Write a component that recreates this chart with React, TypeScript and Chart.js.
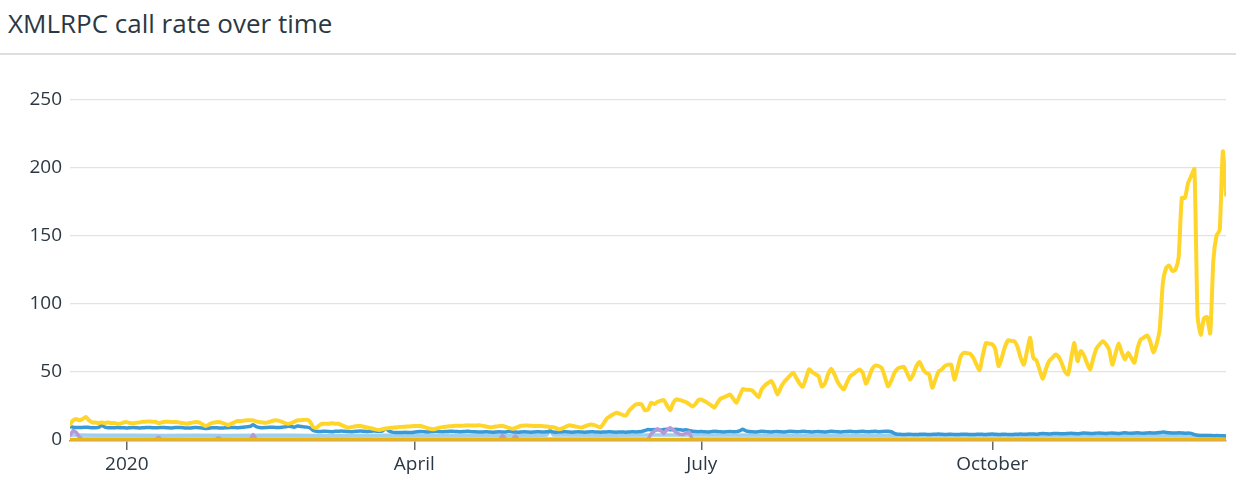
import React, { useEffect, useRef } from "react";
import { Chart, registerables } from "chart.js";

Chart.register(...registerables);

const TITLE = "XMLRPC call rate over time";

// x is the day index, day 0 = 2019-12-14
const tickDays = [18, 109, 200, 292];
const tickLabels = ["2020", "April", "July", "October"];
const yTicks = [0, 50, 100, 150, 200, 250];
const lastDay = 366;

const yellowRate = [
  11, 14, 15, 14, 15, 16.5, 14, 12.5, 12.5, 12,
  12.5, 12, 12.5, 12, 12, 11.5, 11.5, 12.5, 12.7, 12,
  11.8, 12.2, 12.5, 13, 13, 13.2, 13, 13, 12, 12.5,
  13, 13, 12.8, 12.7, 12.7, 12.3, 11.8, 11.5, 12, 12.5,
  12.7, 12.3, 11, 9.8, 11, 12.2, 12.5, 12.7, 12.3, 11.5,
  10.5, 11.5, 12.5, 13.5, 13.5, 13.8, 14, 14, 14, 13.2,
  12.7, 12.5, 12.2, 12.8, 13.5, 14, 13.8, 13, 12, 11.5,
  12, 13, 14, 14, 14.3, 14.5, 13, 9, 8.6, 10.5,
  11.5, 11.5, 11.5, 11.8, 11.5, 11.5, 10.5, 9.5, 8.6, 9,
  9.5, 9.8, 9.8, 9.3, 8.8, 8.3, 7.8, 7.2, 6.9, 7.5,
  8, 8.4, 8.6, 8.8, 9, 9.2, 9.3, 9.5, 9.6, 9.8,
  9.8, 9.8, 9.2, 8.5, 7.8, 7.4, 8, 8.6, 9, 9.3,
  9.6, 9.8, 10, 10, 10, 10.2, 10.3, 10.3, 10.3, 10.3,
  10.3, 9.8, 9.3, 9, 9.2, 9.5, 9.8, 9.8, 9.2, 8.5,
  7.8, 8.5, 9.3, 10, 10.3, 10.2, 10, 9.9, 9.8, 9.8,
  9.6, 9.4, 9.2, 9, 8.2, 7.4, 8.3, 9.3, 10.3, 10,
  9.5, 9, 8.8, 9.5, 10.5, 11, 10.5, 9.5, 9, 12,
  15.5, 17, 18.5, 19.6, 19, 18, 17.5, 21, 23.5, 25.5,
  26, 25.7, 21.5, 22, 27, 26, 27.5, 28.5, 29, 25,
  21.5, 27, 29.5, 29, 28.3, 27.5, 26, 24.2, 26, 29,
  29.2, 28, 26.7, 25, 23.3, 27, 30, 31, 32, 33,
  30, 27, 32, 37, 36.5, 36.5, 36, 33.5, 31, 37,
  39.7, 41.5, 43, 39, 33, 38, 42, 44.5, 47, 49,
  45, 41, 38.7, 45, 51.5, 49.5, 48, 46.5, 39, 41,
  48, 52, 48, 42.5, 39, 36.8, 42, 46.5, 48, 50,
  51.5, 49, 41, 46, 52, 54.4, 54, 52.5, 46, 39,
  43, 49, 52, 53, 53.4, 49, 44, 48, 54, 56.9,
  52, 49, 48, 38, 44, 50, 51.5, 54, 55, 55,
  44, 52, 61, 63.7, 63.5, 63, 60, 55, 51, 62,
  71, 70.5, 70, 66, 54, 60, 68, 73, 72.5, 72.3,
  68, 60, 55, 65, 74.8, 60, 58, 51, 44.6, 52,
  57.6, 60, 62.5, 60.8, 56, 50, 47.8, 60, 71, 57.6,
  65, 62, 56, 51.5, 60, 67, 70, 72.3, 70, 66,
  55, 63, 70.6, 64, 58.8, 63.7, 60, 56.4, 67, 73.5,
  75, 76.5, 72, 64, 70, 81, 115, 126, 128, 124,
  125, 134, 177.7, 177.7, 188.7, 194, 199, 90.7, 77, 89,
  90, 78, 132, 150, 154, 212, 180,
];

const blueRate = [
  9.3, 9.0, 8.8, 8.7, 8.8, 9.0, 8.8, 8.6, 8.5, 8.8,
  10.3, 9.0, 8.6, 8.5, 8.6, 8.7, 8.6, 8.5, 8.4, 8.6,
  8.7, 8.6, 8.4, 8.5, 8.7, 8.8, 8.6, 8.5, 8.6, 8.8,
  8.7, 8.5, 8.4, 8.6, 8.8, 8.7, 8.5, 8.3, 8.4, 8.6,
  8.8, 8.6, 8.3, 8.0, 8.2, 8.5, 8.6, 8.4, 8.3, 8.5,
  8.6, 8.8, 8.7, 8.6, 8.8, 9.0, 9.2, 9.5, 10.8, 9.3,
  8.8, 8.6, 8.7, 8.9, 9.0, 8.8, 8.7, 8.9, 9.2, 9.6,
  9.4, 9.0, 9.8, 9.5, 9.2, 9.0, 8.4, 6.5, 6.0, 5.8,
  5.9, 6.0, 5.8, 5.7, 5.9, 6.0, 6.1, 5.9, 5.8, 5.7,
  5.8, 6.0, 6.1, 5.9, 5.8, 6.0, 6.2, 6.0, 5.9, 6.3,
  7.8, 6.2, 5.3, 5.0, 5.1, 5.0, 5.2, 5.1, 5.0, 5.3,
  5.6, 5.8, 5.7, 5.5, 5.6, 5.8, 5.9, 5.7, 5.6, 5.8,
  5.9, 6.0, 5.8, 5.7, 5.6, 5.8, 5.9, 5.7, 5.6, 5.5,
  5.4, 5.5, 5.6, 5.4, 5.3, 5.5, 5.6, 5.4, 5.5, 6.0,
  5.6, 5.4, 5.3, 5.5, 5.6, 5.4, 5.3, 5.5, 5.6, 5.5,
  5.4, 5.6, 5.8, 5.5, 5.3, 5.4, 5.5, 5.6, 5.4, 5.3,
  5.5, 5.6, 5.4, 5.3, 5.5, 5.6, 5.5, 5.4, 5.3, 5.4,
  5.5, 5.6, 5.4, 5.3, 5.5, 5.4, 5.3, 5.5, 5.6, 5.5,
  5.6, 5.8, 6.5, 7.2, 7.0, 7.3, 7.1, 6.9, 7.2, 7.4,
  7.0, 7.2, 7.4, 7.1, 6.8, 7.0, 6.6, 6.0, 5.8, 5.7,
  5.8, 5.6, 5.5, 5.7, 5.9, 5.8, 5.6, 5.5, 5.7, 5.8,
  5.6, 5.7, 6.2, 7.4, 6.3, 5.8, 5.6, 5.5, 5.7, 5.9,
  5.8, 5.6, 5.5, 5.7, 5.8, 5.6, 5.5, 5.7, 5.9, 5.8,
  5.6, 5.7, 5.9, 5.8, 5.6, 5.5, 5.7, 5.8, 5.6, 5.5,
  5.7, 5.9, 5.8, 5.6, 5.5, 5.7, 5.8, 5.9, 5.7, 5.6,
  5.8, 5.9, 5.7, 5.6, 5.8, 5.9, 5.7, 5.8, 6.0, 5.9,
  5.6, 4.5, 3.8, 3.7, 3.6, 3.7, 3.8, 3.6, 3.5, 3.7,
  3.8, 3.7, 3.6, 3.7, 3.8, 3.9, 3.7, 3.6, 3.7, 3.8,
  3.6, 3.5, 3.7, 3.8, 3.7, 3.6, 3.5, 3.7, 3.8, 3.7,
  3.6, 3.8, 3.9, 3.7, 3.6, 3.7, 3.8, 3.6, 3.5, 3.7,
  3.8, 3.9, 3.7, 3.8, 4.0, 3.9, 3.8, 4.1, 4.3, 4.2,
  4.0, 4.2, 4.4, 4.3, 4.1, 4.2, 4.4, 4.5, 4.3, 4.2,
  4.4, 4.6, 4.5, 4.3, 4.4, 4.6, 4.7, 4.5, 4.4, 4.6,
  4.7, 4.5, 4.4, 4.6, 4.8, 4.6, 4.5, 4.7, 4.9, 4.6,
  4.5, 4.7, 4.8, 4.6, 4.8, 5.0, 5.4, 5.1, 4.8, 4.7,
  4.6, 4.8, 4.7, 4.5, 4.6, 4.4, 3.5, 3.0, 2.9, 2.8,
  2.9, 2.8, 2.7, 2.8, 2.7, 2.6, 2.5,
];

const lightBlueDays = [0, 10, 20, 30, 40, 50, 60, 70, 77, 85, 100, 120, 140, 150, 151, 152, 153, 170, 185, 200, 230, 261, 290, 320, 350, 366];
const lightBlueRate = [3.2, 3.0, 3.1, 2.9, 3.0, 2.9, 3.1, 3.0, 2.8, 2.9, 3.1, 3.0, 3.1, 3.0, 3.2, 7.4, 3.2, 3.0, 3.3, 3.2, 3.1, 3.0, 2.9, 3.0, 3.1, 2.6];

const purpleDays = [0, 1, 2, 3, 4, 27, 28, 29, 46, 47, 48, 57, 58, 59, 136, 137, 138, 140, 141, 142, 183, 184, 185, 186, 187, 188, 189, 190, 191, 192, 193, 194, 195, 196, 197, 366];
const purpleRate = [3, 6.5, 5, 1.5, 0, 0, 1.5, 0, 0, 1.2, 0, 0, 3.5, 0, 0, 3, 0, 0, 2.5, 0, 0, 4, 6, 7.8, 6.5, 4.4, 7, 8.6, 7, 5, 3.7, 3.5, 4.5, 5.4, 0, 0];

const goldDays = [0, 366];
const goldRate = [0, 0];

const pts = (days: number[], vals: number[]) => vals.map((v, i) => ({ x: days[i], y: v }));
const daily = (vals: number[]) => vals.map((v, i) => ({ x: i, y: v }));

const FONT = "'Open Sans', 'Noto Sans', sans-serif";
const TEXT = "#2b3843";

export default function App() {
  const ref = useRef<HTMLCanvasElement | null>(null);

  useEffect(() => {
    document.body.style.margin = "0";
    if (!ref.current) return;
    const common = { pointRadius: 0, borderWidth: 3.5, tension: 0.2, borderJoinStyle: "round" as const, borderCapStyle: "round" as const, fill: false };
    const chart = new Chart(ref.current, {
      type: "line",
      data: {
        datasets: [
          { ...common, label: "zero", data: pts(goldDays, goldRate), borderColor: "#EDB60C", borderWidth: 3 },
          { ...common, label: "purple", data: pts(purpleDays, purpleRate), borderColor: "#B49AD6", tension: 0 },
          { ...common, label: "yellow", data: daily(yellowRate), borderColor: "#FFD52A", borderWidth: 4 },
          { ...common, label: "blue", data: daily(blueRate), borderColor: "#3A9AD6" },
          { ...common, label: "lightblue", data: pts(lightBlueDays, lightBlueRate), borderColor: "#9FCFEB", tension: 0 },
        ],
      },
      options: {
        animation: false,
        responsive: true,
        maintainAspectRatio: false,
        layout: { padding: { left: 8, right: 10, top: 19, bottom: 0 } },
        plugins: { legend: { display: false }, tooltip: { enabled: false }, title: { display: false } },
        scales: {
          x: {
            type: "linear",
            min: 0,
            max: lastDay,
            afterBuildTicks: (s: any) => { s.ticks = tickDays.map((v) => ({ value: v })); },
            afterFit: (s: any) => { s.height = 49; },
            grid: { drawOnChartArea: false, drawTicks: true, tickLength: 9, color: "#666", lineWidth: 1.5 },
            border: { display: true, color: "#a3a3a3", width: 1.5 },
            ticks: {
              autoSkip: false,
              maxRotation: 0,
              padding: 3,
              color: TEXT,
              font: { family: FONT, size: 19 },
              callback: (v: any) => tickLabels[tickDays.indexOf(Number(v))] ?? "",
            },
          },
          y: {
            type: "linear",
            min: -1.2,
            max: 265,
            afterBuildTicks: (s: any) => { s.ticks = yTicks.map((v) => ({ value: v })); },
            afterFit: (s: any) => { s.width = 62; },
            grid: { drawTicks: false, color: "#e3e3e3", lineWidth: 1.2 },
            border: { display: false },
            ticks: {
              padding: 8,
              color: TEXT,
              font: { family: FONT, size: 19 },
              callback: (v: any) => String(v),
            },
          },
        },
      },
    });
    return () => chart.destroy();
  }, []);

  return (
    <div style={{ position: "fixed", left: 0, top: 0, width: 1236, height: 490, background: "#fff", overflow: "hidden" }}>
      <div style={{ position: "absolute", left: 8, top: 5, fontFamily: FONT, fontSize: 26, color: TEXT, whiteSpace: "nowrap" }}>{TITLE}</div>
      <div style={{ position: "absolute", left: 0, top: 53, width: 1236, height: 2, background: "#dedede" }} />
      <div style={{ position: "absolute", left: 0, top: 60, width: 1236, height: 430 }}>
        <canvas ref={ref} />
      </div>
    </div>
  );
}
